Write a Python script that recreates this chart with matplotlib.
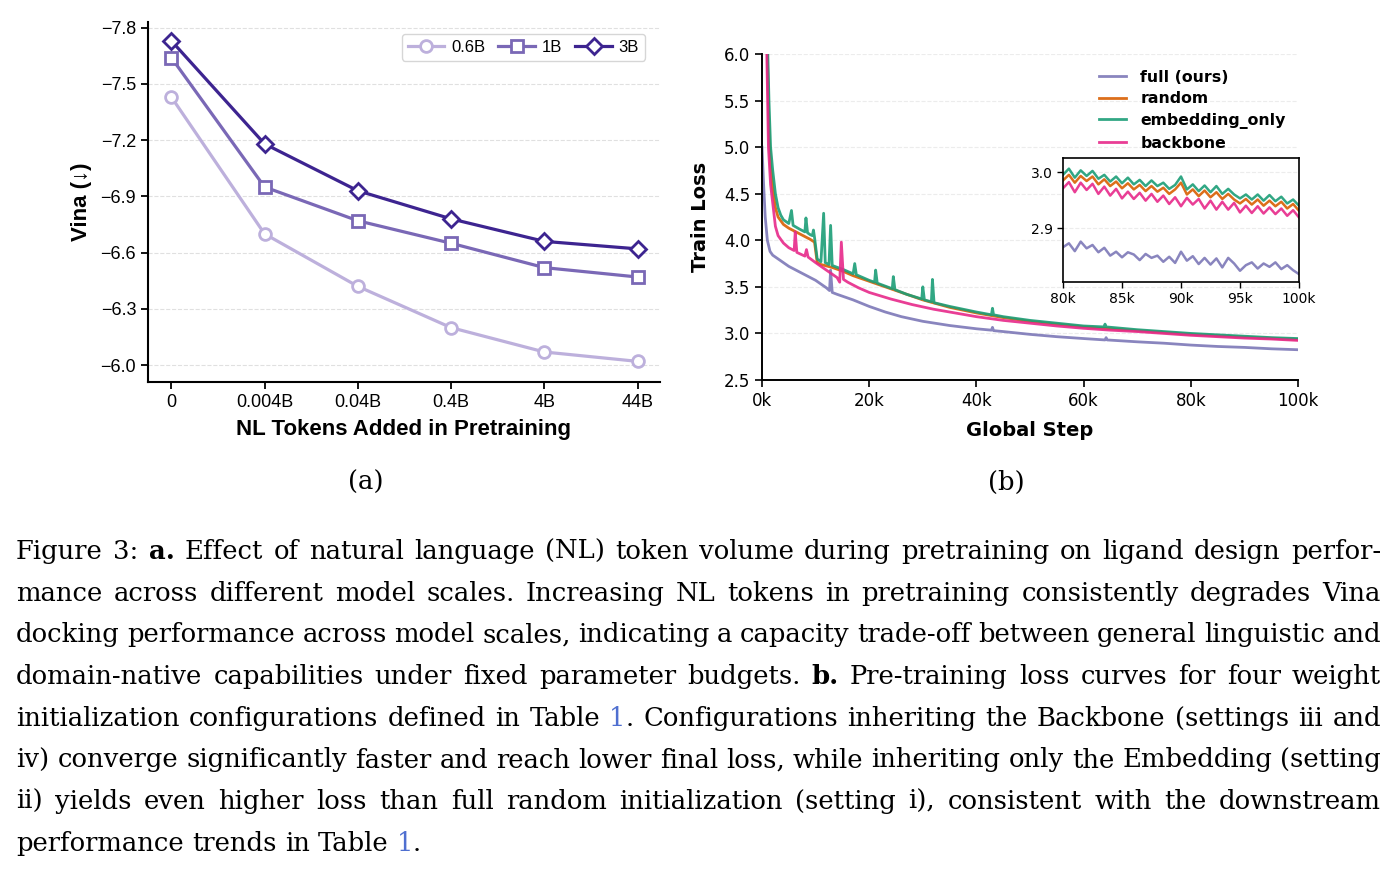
import matplotlib
matplotlib.use("Agg")
import matplotlib.pyplot as plt
from matplotlib.ticker import FuncFormatter

# ---- data: panel a ----
token_labels = ["0", "0.004B", "0.04B", "0.4B", "4B", "44B"]
vina_06b = [-7.43, -6.70, -6.42, -6.20, -6.07, -6.02]
vina_1b = [-7.64, -6.95, -6.77, -6.65, -6.52, -6.47]
vina_3b = [-7.73, -7.18, -6.93, -6.78, -6.66, -6.62]

# ---- data: panel b (steps in thousands) ----
full_step = [0.0, 0.3, 0.6, 1.0, 1.5, 2, 3, 4, 5, 6, 7, 8, 9, 10, 11, 12, 12.6, 12.8, 13.1, 14, 15, 17, 20,
             23, 26, 30, 35, 40, 42.8, 43, 43.2, 45, 50, 55, 60, 64, 64.2, 64.4, 70, 75, 80, 85, 90, 95, 100]
full_loss = [5.0, 4.6, 4.25, 4.0, 3.88, 3.84, 3.80, 3.76, 3.72, 3.69, 3.66, 3.63, 3.60, 3.57, 3.53, 3.49, 3.46,
             3.68, 3.44, 3.42, 3.40, 3.36, 3.29, 3.23, 3.18, 3.13, 3.085, 3.05, 3.035, 3.065, 3.03, 3.02, 2.99,
             2.965, 2.945, 2.93, 2.955, 2.93, 2.91, 2.895, 2.875, 2.86, 2.85, 2.835, 2.825]

emb_step = [0.6, 1.0, 1.3, 1.6, 2.0, 2.5, 3, 3.5, 4, 5, 5.5, 5.8, 7, 8, 8.2, 8.5, 9, 9.4, 9.6, 9.8, 10.3, 11,
            11.5, 11.8, 12.5, 12.8, 13.1, 14, 15, 17, 17.3, 17.6, 20, 21, 21.2, 21.5, 24.3, 24.5, 24.8, 27, 29.8,
            30, 30.3, 31.6, 31.8, 32.1, 35, 40, 42.8, 43, 43.2, 45, 50, 55, 60, 63.8, 64, 64.2, 70, 75, 80, 85,
            90, 95, 100]
emb_loss = [6.6, 6.2, 5.5, 5.0, 4.75, 4.5, 4.35, 4.27, 4.22, 4.18, 4.32, 4.16, 4.12, 4.09, 4.24, 4.08, 4.06,
            4.05, 4.11, 4.03, 3.80, 3.77, 4.29, 3.76, 3.74, 4.16, 3.73, 3.71, 3.69, 3.64, 3.75, 3.63, 3.57, 3.55,
            3.68, 3.54, 3.48, 3.61, 3.47, 3.42, 3.37, 3.50, 3.36, 3.34, 3.58, 3.33, 3.29, 3.23, 3.20, 3.27, 3.20,
            3.18, 3.14, 3.11, 3.08, 3.07, 3.10, 3.07, 3.04, 3.02, 3.00, 2.985, 2.97, 2.955, 2.945]

rand_step = [0.6, 1.0, 1.3, 1.6, 2, 2.5, 3, 4, 5, 6, 7, 8, 9, 9.8, 10.3, 11, 13, 15, 17, 20, 24, 27, 30, 35,
             40, 45, 50, 55, 60, 65, 70, 75, 80, 85, 90, 95, 100]
rand_loss = [6.6, 6.0, 5.2, 4.8, 4.55, 4.35, 4.25, 4.17, 4.13, 4.10, 4.07, 4.04, 4.01, 3.98, 3.76, 3.74, 3.71,
             3.67, 3.62, 3.56, 3.48, 3.42, 3.36, 3.28, 3.22, 3.17, 3.13, 3.10, 3.07, 3.05, 3.03, 3.01, 2.99,
             2.975, 2.96, 2.947, 2.935]

bb_step = [0.5, 0.9, 1.2, 1.6, 2, 2.5, 3, 4, 5, 6, 6.2, 6.5, 8, 8.3, 8.6, 10, 12, 14, 14.5, 14.8, 15.2, 16, 18,
           20, 24, 28, 32, 36, 40, 45, 50, 55, 60, 65, 70, 75, 80, 85, 90, 95, 100]
bb_loss = [6.6, 6.0, 5.0, 4.6, 4.4, 4.15, 4.05, 3.97, 3.92, 3.89, 4.09, 3.87, 3.83, 3.90, 3.82, 3.76, 3.68,
           3.60, 3.55, 3.98, 3.58, 3.55, 3.49, 3.44, 3.37, 3.31, 3.26, 3.22, 3.18, 3.14, 3.11, 3.08, 3.055,
           3.035, 3.02, 3.00, 2.98, 2.965, 2.95, 2.94, 2.925]

# zoomed window 80k-100k, every 0.5k
zoom_step = [80 + 0.5 * i for i in range(41)]
zoom_full = [2.866, 2.873, 2.859, 2.876, 2.864, 2.870, 2.857, 2.865, 2.851, 2.858, 2.848, 2.857, 2.853, 2.843,
             2.854, 2.847, 2.851, 2.840, 2.849, 2.838, 2.858, 2.842, 2.850, 2.836, 2.847, 2.835, 2.846, 2.830,
             2.847, 2.837, 2.824, 2.834, 2.839, 2.828, 2.837, 2.831, 2.839, 2.827, 2.834, 2.825, 2.818]
zoom_emb = [2.995, 3.006, 2.990, 3.003, 2.993, 3.002, 2.988, 2.995, 2.983, 2.992, 2.980, 2.990, 2.978, 2.986,
            2.975, 2.985, 2.975, 2.981, 2.970, 2.977, 2.992, 2.969, 2.978, 2.966, 2.976, 2.964, 2.975, 2.961,
            2.970, 2.960, 2.953, 2.960, 2.951, 2.960, 2.949, 2.959, 2.948, 2.956, 2.944, 2.951, 2.940]
zoom_rand = [2.985, 2.995, 2.981, 2.993, 2.984, 2.992, 2.978, 2.987, 2.975, 2.983, 2.971, 2.980, 2.969, 2.977,
             2.966, 2.975, 2.965, 2.972, 2.961, 2.969, 2.981, 2.960, 2.969, 2.957, 2.967, 2.955, 2.964, 2.952,
             2.961, 2.951, 2.944, 2.952, 2.942, 2.951, 2.940, 2.949, 2.939, 2.947, 2.935, 2.943, 2.931]
zoom_bb = [2.971, 2.982, 2.964, 2.981, 2.968, 2.979, 2.961, 2.974, 2.958, 2.970, 2.953, 2.965, 2.952, 2.963,
           2.949, 2.961, 2.947, 2.958, 2.943, 2.955, 2.939, 2.954, 2.942, 2.952, 2.935, 2.949, 2.933, 2.947,
           2.933, 2.945, 2.928, 2.940, 2.927, 2.939, 2.926, 2.937, 2.925, 2.935, 2.922, 2.932, 2.919]

caption_lines = [
    [("Figure 3: ", "n"), ("a.", "b"), (" Effect of natural language (NL) token volume during pretraining on ligand design perfor-", "n")],
    [("mance across different model scales.  Increasing NL tokens in pretraining consistently degrades Vina", "n")],
    [("docking performance across model scales, indicating a capacity trade-off between general linguistic and", "n")],
    [("domain-native capabilities under fixed parameter budgets. ", "n"), ("b.", "b"), (" Pre-training loss curves for four weight", "n")],
    [("initialization configurations defined in Table ", "n"), ("1", "l"), (". Configurations inheriting the Backbone (settings iii and", "n")],
    [("iv) converge significantly faster and reach lower final loss, while inheriting only the Embedding (setting", "n")],
    [("ii) yields even higher loss than full random initialization (setting i), consistent with the downstream", "n")],
    [("performance trends in Table ", "n"), ("1", "l"), (".", "n")],
]

W, H = 1398, 875
fig = plt.figure(figsize=(W / 100, H / 100), dpi=100)

def box(l, t, r, b):
    return [l / W, 1 - b / H, (r - l) / W, (b - t) / H]

# ---------------- panel a ----------------
sans = ["Liberation Sans", "DejaVu Sans"]
ax1 = fig.add_axes(box(148, 22, 660, 382))
xs = list(range(len(token_labels)))
ax1.plot(xs, vina_06b, "-o", color="#bdb0dc", lw=2.3, ms=8.5, mfc="white", mew=2, label="0.6B")
ax1.plot(xs, vina_1b, "-s", color="#7a68b6", lw=2.3, ms=8.5, mfc="white", mew=2, label="1B")
ax1.plot(xs, vina_3b, "-D", color="#3d2490", lw=2.3, ms=8.5, mfc="white", mew=2, label="3B")
ax1.set_xlim(-0.25, 5.24)
ax1.set_ylim(-5.91, -7.83)
ax1.set_xticks(xs)
ax1.set_xticklabels(token_labels)
ax1.set_yticks([-7.8, -7.5, -7.2, -6.9, -6.6, -6.3, -6.0])
ax1.yaxis.grid(True, linestyle="--", color="#e0e0e0", lw=0.8)
ax1.set_axisbelow(True)
for s in ["top", "right"]:
    ax1.spines[s].set_visible(False)
for s in ["left", "bottom"]:
    ax1.spines[s].set_linewidth(1.5)
ax1.tick_params(width=1.3, length=5)
for lbl in ax1.get_xticklabels() + ax1.get_yticklabels():
    lbl.set_family(sans)
    lbl.set_fontsize(13)
ax1.set_xlabel("NL Tokens Added in Pretraining", fontsize=16, fontweight="bold", family=sans)
ax1.set_ylabel("Vina (↓)", fontsize=16, fontweight="bold", family=sans)
ax1.xaxis.set_label_coords(0.5, -0.103)
ax1.yaxis.set_label_coords(-0.11, 0.5)
leg1 = ax1.legend(loc="upper right", bbox_to_anchor=(0.987, 0.99), ncol=3, handlelength=2.2,
                  columnspacing=0.8, handletextpad=0.4, borderpad=0.35, prop={"family": sans, "size": 12})
leg1.get_frame().set_edgecolor("#cccccc")

# ---------------- panel b ----------------
c_full, c_rand, c_emb, c_bb = "#7570b3", "#d95f02", "#1b9e77", "#e7298a"
ax2 = fig.add_axes(box(762, 54, 1298, 380))
ax2.plot(full_step, full_loss, color=c_full, lw=2.0, alpha=0.85, label="full (ours)")
ax2.plot(rand_step, rand_loss, color=c_rand, lw=2.0, alpha=0.9, label="random")
ax2.plot(emb_step, emb_loss, color=c_emb, lw=2.0, alpha=0.9, label="embedding_only")
ax2.plot(bb_step, bb_loss, color=c_bb, lw=2.0, alpha=0.9, label="backbone")
ax2.set_xlim(0, 100)
ax2.set_ylim(2.5, 6.0)
ax2.set_xticks([0, 20, 40, 60, 80, 100])
ax2.set_yticks([2.5, 3.0, 3.5, 4.0, 4.5, 5.0, 5.5, 6.0])
ax2.xaxis.set_major_formatter(FuncFormatter(lambda v, p: "%dk" % v))
ax2.yaxis.grid(True, linestyle="--", color="#ececec", lw=0.8)
for s in ["top", "right"]:
    ax2.spines[s].set_visible(False)
for s in ["left", "bottom"]:
    ax2.spines[s].set_linewidth(1.4)
ax2.tick_params(labelsize=12, width=1.2, length=5)
ax2.set_xlabel("Global Step", fontsize=14, fontweight="bold")
ax2.set_ylabel("Train Loss", fontsize=14, fontweight="bold")
ax2.xaxis.set_label_coords(0.5, -0.125)
ax2.yaxis.set_label_coords(-0.097, 0.5)
ax2.legend(loc="upper left", bbox_to_anchor=(0.603, 0.995), frameon=False, handlelength=1.7,
           handletextpad=0.9, labelspacing=0.42, prop={"weight": "bold", "size": 11.3})

ax3 = fig.add_axes(box(1063, 158, 1299, 282))
ax3.plot(zoom_step, zoom_full, color=c_full, lw=1.8, alpha=0.85)
ax3.plot(zoom_step, zoom_rand, color=c_rand, lw=1.8, alpha=0.9)
ax3.plot(zoom_step, zoom_emb, color=c_emb, lw=1.8, alpha=0.9)
ax3.plot(zoom_step, zoom_bb, color=c_bb, lw=1.8, alpha=0.9)
ax3.set_xlim(80, 100)
ax3.set_ylim(2.804, 3.025)
ax3.set_xticks([80, 85, 90, 95, 100])
ax3.set_yticks([2.9, 3.0])
ax3.xaxis.set_major_formatter(FuncFormatter(lambda v, p: "%dk" % v))
ax3.yaxis.grid(True, linestyle="--", color="#ececec", lw=0.8)
ax3.tick_params(labelsize=10, width=1, length=4)
for s in ax3.spines.values():
    s.set_linewidth(1.2)

# ---------------- sub labels + caption ----------------
serif = "DejaVu Serif"
fs = 18.6
fig.text(366 / W, 1 - 482 / H, "(a)", family=serif, fontsize=fs, ha="center", va="center")
fig.text(1006 / W, 1 - 482 / H, "(b)", family=serif, fontsize=fs, ha="center", va="center")

styles = {"n": {}, "b": {"fontweight": "bold"}, "l": {"color": "#4f6fd0"}}
renderer = fig.canvas.get_renderer()

def width(s, st):
    t = fig.text(0, 0, s, family=serif, fontsize=fs, **styles[st])
    w = t.get_window_extent(renderer).width
    t.remove()
    return w

x_left, x_right = 16, 1381
space_w = width("a b", "n") - width("ab", "n")
for i, line in enumerate(caption_lines):
    words = [[]]
    for txt, st in line:
        for ch in txt:
            if ch == " ":
                if words[-1]:
                    words.append([])
            else:
                if words[-1] and words[-1][-1][1] == st:
                    words[-1][-1][0] += ch
                else:
                    words[-1].append([ch, st])
    words = [w for w in words if w]
    wws = [sum(width(s, st) for s, st in w) for w in words]
    if i < len(caption_lines) - 1:
        gap = (x_right - x_left - sum(wws)) / (len(words) - 1)
    else:
        gap = space_w
    y = 1 - (559 + 41.7 * i) / H
    x = x_left
    for w, ww in zip(words, wws):
        xx = x
        for s, st in w:
            fig.text(xx / W, y, s, family=serif, fontsize=fs, va="baseline", **styles[st])
            xx += width(s, st)
        x += ww + gap

fig.savefig("out.png", dpi=100)
